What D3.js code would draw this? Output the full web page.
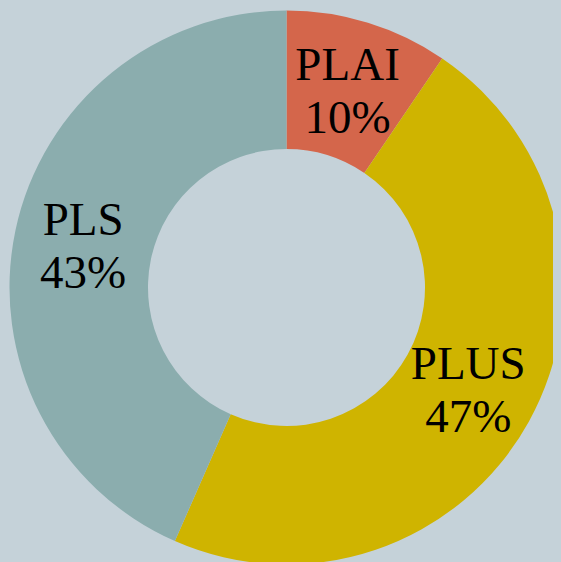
<!DOCTYPE html>
<html>
<head>
<meta charset="utf-8">
<script src="https://d3js.org/d3.v7.min.js"></script>
<style>
  html, body { margin: 0; padding: 0; background: #c5d2d9; }
  svg { display: block; }
</style>
</head>
<body>
<svg id="chart" width="561" height="562"></svg>
<script>
// slice data, clockwise from 12 o'clock
var categories = ["PLAI", "PLUS", "PLS"];
var shares = [9.5, 47.1, 43.4];
var sliceColors = ["#d4664b", "#cfb400", "#8badae"];

var W = 561, H = 562;
var cx = 286.5, cy = 287.5;
var outerR = 277, innerR = 138.5;

var svg = d3.select("#chart");

svg.append("rect")
  .attr("width", W).attr("height", H)
  .attr("fill", "#c5d2d9");

// plot area is clipped a little on the right
svg.append("defs").append("clipPath")
  .attr("id", "plotclip")
  .append("rect")
  .attr("x", 0).attr("y", 0)
  .attr("width", 553).attr("height", H);

var rows = categories.map(function(c, i) {
  return { name: c, value: shares[i], color: sliceColors[i] };
});

var pie = d3.pie()
  .sort(null)
  .value(function(d) { return d.value; });

var arc = d3.arc()
  .innerRadius(innerR)
  .outerRadius(outerR);

var g = svg.append("g")
  .attr("clip-path", "url(#plotclip)")
  .append("g")
  .attr("transform", "translate(" + cx + "," + cy + ")");

var arcs = pie(rows);

g.selectAll("path.slice")
  .data(arcs)
  .enter().append("path")
  .attr("class", "slice")
  .attr("d", arc)
  .attr("fill", function(d) { return d.data.color; });

var labels = g.selectAll("text.lbl")
  .data(arcs)
  .enter().append("text")
  .attr("class", "lbl")
  .attr("transform", function(d) { return "translate(" + arc.centroid(d) + ")"; })
  .attr("text-anchor", "middle")
  .style("font-family", "'Liberation Serif', 'DejaVu Serif', serif")
  .style("font-size", "47px")
  .style("fill", "#000");

labels.append("tspan")
  .attr("x", 0)
  .attr("dy", "-0.2em")
  .text(function(d) { return d.data.name; });

labels.append("tspan")
  .attr("x", 0)
  .attr("dy", "1.13em")
  .text(function(d) { return Math.round(d.data.value) + "%"; });
</script>
</body>
</html>
